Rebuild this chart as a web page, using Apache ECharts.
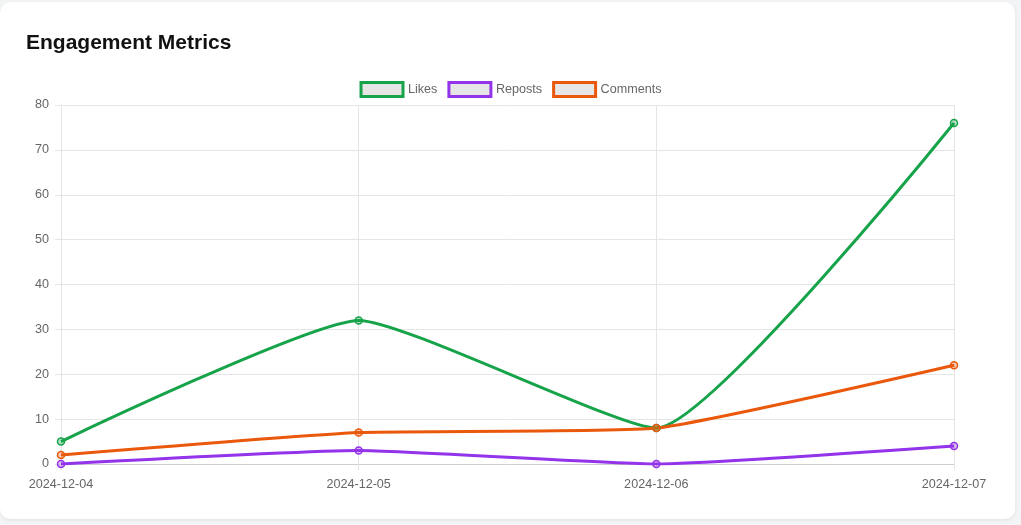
<!DOCTYPE html>
<html><head><meta charset="utf-8">
<script src="https://cdn.jsdelivr.net/npm/echarts@6/dist/echarts.min.js"></script>
<style>
html,body{margin:0;padding:0;background:#f3f4f6;width:1021px;height:525px;overflow:hidden;}
#card{position:absolute;left:0;top:2px;width:1015px;height:517px;background:#fff;border-radius:10px;box-shadow:0 1px 4px rgba(0,0,0,0.08);}
#chart{position:absolute;left:0;top:0;width:1021px;height:525px;}
</style></head>
<body>
<div id="card"></div>
<div id="chart"></div>
<script>
const categories = ['2024-12-04','2024-12-05','2024-12-06','2024-12-07'];
const likes = [5, 32, 8, 76];
const reposts = [0, 3, 0, 4];
const comments = [2, 7, 8, 22];
const yTicks = {min: 0, max: 80, interval: 10};

const FONT = 'Liberation Sans, Arial';
const chart = echarts.init(document.getElementById('chart'), null, {renderer: 'canvas'});
function mk(name, data, color, fill) {
  return {
    name, type: 'line', data, smooth: 0.15,
    symbol: 'circle', symbolSize: 7,
    lineStyle: {color, width: 3},
    itemStyle: {color: fill, borderColor: color, borderWidth: 1.5},
    emphasis: {disabled: true}
  };
}
chart.setOption({
  animation: false,
  title: {text: 'Engagement Metrics', left: 26, top: 33, padding: 0,
    textStyle: {fontFamily: FONT, fontSize: 21, fontWeight: 'bold', color: '#111'}},
  legend: {
    top: 81, left: 'center', itemWidth: 42, itemHeight: 14, itemGap: 10,
    icon: 'rect', padding: 0,
    textStyle: {fontFamily: FONT, fontSize: 12.6, color: '#666'},
    data: [
      {name: 'Likes', itemStyle: {color: '#e6e6e6', borderColor: '#16a34a', borderWidth: 3}},
      {name: 'Reposts', itemStyle: {color: '#e6e6e6', borderColor: '#9333ea', borderWidth: 3}},
      {name: 'Comments', itemStyle: {color: '#e6e6e6', borderColor: '#ea580c', borderWidth: 3}}
    ]
  },
  grid: {left: 61, right: 67, top: 105, bottom: 61, containLabel: false},
  xAxis: {
    type: 'category', data: categories, boundaryGap: false,
    axisLine: {lineStyle: {color: '#cfcfcf'}},
    axisTick: {show: true, length: 6, lineStyle: {color: '#e5e5e5'}},
    splitLine: {show: true, lineStyle: {color: '#e5e5e5'}},
    axisLabel: {color: '#666', fontFamily: FONT, fontSize: 12.6, margin: 14}
  },
  yAxis: {
    type: 'value', min: yTicks.min, max: yTicks.max, interval: yTicks.interval,
    axisLine: {show: true, lineStyle: {color: '#e5e5e5'}},
    axisTick: {show: true, length: 6, lineStyle: {color: '#e5e5e5'}},
    splitLine: {show: true, lineStyle: {color: '#e5e5e5'}},
    axisLabel: {color: '#666', fontFamily: FONT, fontSize: 12.6, margin: 12}
  },
  series: [
    mk('Likes', likes, '#16a34a', 'rgba(22,163,74,0.3)'),
    mk('Reposts', reposts, '#9333ea', 'rgba(147,51,234,0.3)'),
    mk('Comments', comments, '#ea580c', 'rgba(234,88,12,0.3)')
  ]
});
</script>
</body></html>
